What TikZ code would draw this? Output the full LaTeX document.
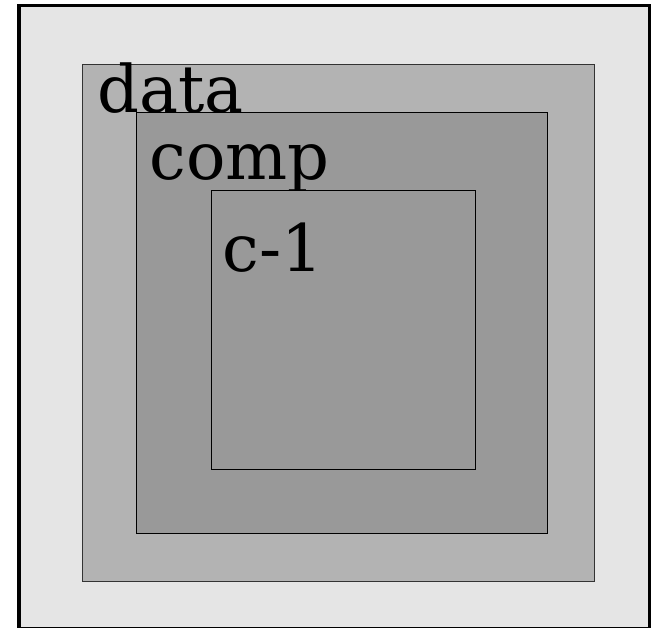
\documentclass[tikz,border=0pt]{standalone}
\usepackage{fontspec}
\setmainfont{DejaVu Serif}
\usepackage{xcolor}
\usepackage{tikz}
\usetikzlibrary{positioning}
\definecolor{outerbg}{RGB}{229,229,229}
\definecolor{datafill}{RGB}{179,179,179}
\definecolor{compfill}{RGB}{153,153,153}
\definecolor{cfill}{RGB}{153,153,153}

\begin{document}
\begin{tikzpicture}[x=1pt, y=-1pt,
    lbl/.style={anchor=base west, inner sep=0pt, font=\fontsize{65.5}{65.5}\selectfont}]
    \useasboundingbox (0,0) rectangle (659,628);
    % outer frame
    \fill[outerbg] (19,5.5) rectangle (649.5,629);
    \draw[black, line width=3.2pt] (19,5.5) rectangle (649.5,629);
    % data
    \fill[datafill] (82.5,64.5) rectangle (594,581.5);
    \draw[black!80, line width=1pt] (82.5,64.5) rectangle (594,581.5);
    \node[lbl] (data) at (97.5,113) {data};
    % comp
    \fill[compfill] (136,112.5) rectangle (547.5,533.5);
    \draw[black, line width=1pt] (136,112.5) rectangle (547.5,533.5);
    \node[lbl] (comp) at (149.5,180) {comp};
    % c-1
    \fill[cfill] (211.5,191) rectangle (475,469);
    \draw[black, line width=1pt] (211.5,191) rectangle (475,469);
    \node[lbl] (c1) at (222.5,272) {c-1};
  \end{tikzpicture}
\end{document}
